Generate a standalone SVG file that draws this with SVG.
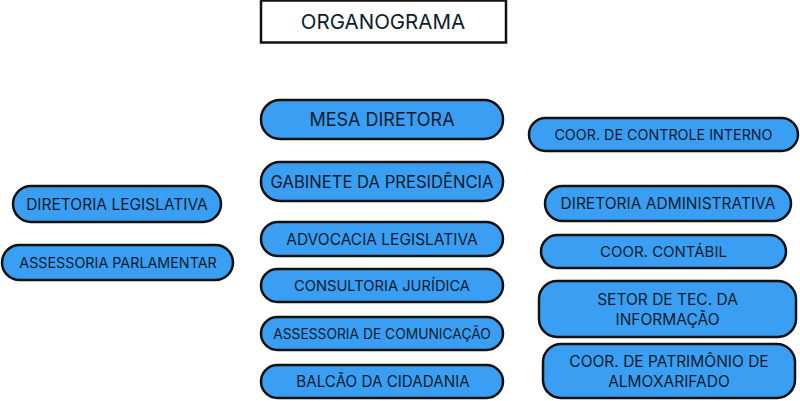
<svg xmlns="http://www.w3.org/2000/svg" width="800" height="401" viewBox="0 0 800 401">
<style>
.b{fill:#3a9ff2;stroke:#111;stroke-width:2.5}
.t{font-family:Inter,"Liberation Sans",sans-serif;font-size:15.5px;fill:#0d1b2e;text-anchor:middle;dominant-baseline:central}
</style>
<rect width="800" height="401" fill="#fff"/>
<g id="title"><rect x="261" y="0.5" width="245" height="42" fill="#fff" stroke="#111" stroke-width="2.5"/><text class="t" x="383" y="21.5" style="font-size:20.5px">ORGANOGRAMA</text></g>
<g id="connectors"></g>
<g id="mesa"><rect class="b" x="261" y="100" width="242" height="39" rx="19"/><text class="t" x="382" y="119.5" style="font-size:18px">MESA DIRETORA</text></g>
<g id="gabinete"><rect class="b" x="261" y="162" width="242" height="39" rx="19"/><text class="t" x="382" y="181.5" style="font-size:16.6px">GABINETE DA PRESIDÊNCIA</text></g>
<g id="advocacia"><rect class="b" x="261" y="222" width="242" height="34" rx="17"/><text class="t" x="382" y="239">ADVOCACIA LEGISLATIVA</text></g>
<g id="consultoria"><rect class="b" x="261" y="269" width="242" height="33" rx="16.5"/><text class="t" x="382" y="285.5" style="font-size:14.7px">CONSULTORIA JURÍDICA</text></g>
<g id="comunicacao"><rect class="b" x="261" y="317" width="242" height="33" rx="16.5"/><text class="t" x="382" y="333.5" style="font-size:13.8px">ASSESSORIA DE COMUNICAÇÃO</text></g>
<g id="balcao"><rect class="b" x="261" y="365" width="242" height="33" rx="16.5"/><text class="t" x="383" y="381.5" style="font-size:15.2px">BALCÃO DA CIDADANIA</text></g>
<g id="dirleg"><rect class="b" x="13" y="186" width="208" height="36" rx="18"/><text class="t" x="117" y="204">DIRETORIA LEGISLATIVA</text></g>
<g id="asspar"><rect class="b" x="2" y="245" width="231" height="35" rx="17.5"/><text class="t" x="118" y="262.5" style="font-size:14.3px">ASSESSORIA PARLAMENTAR</text></g>
<g id="controle"><rect class="b" x="529" y="118" width="269" height="33" rx="16.5"/><text class="t" x="663.5" y="134.5" style="font-size:14.3px">COOR. DE CONTROLE INTERNO</text></g>
<g id="diradm"><rect class="b" x="545" y="186" width="246" height="35" rx="17.5"/><text class="t" x="668" y="203.5">DIRETORIA ADMINISTRATIVA</text></g>
<g id="contabil"><rect class="b" x="541" y="235" width="245" height="33" rx="16.5"/><text class="t" x="663.5" y="251.5" style="font-size:15px">COOR. CONTÁBIL</text></g>
<g id="setortec"><rect class="b" x="539" y="281" width="257" height="56" rx="18"/><text class="t" x="667.5" y="299">SETOR DE TEC. DA</text><text class="t" x="667.5" y="319">INFORMAÇÃO</text></g>
<g id="patrimonio"><rect class="b" x="543" y="344" width="252" height="54" rx="18"/><text class="t" x="669" y="361">COOR. DE PATRIMÔNIO DE</text><text class="t" x="669" y="381">ALMOXARIFADO</text></g>
</svg>
